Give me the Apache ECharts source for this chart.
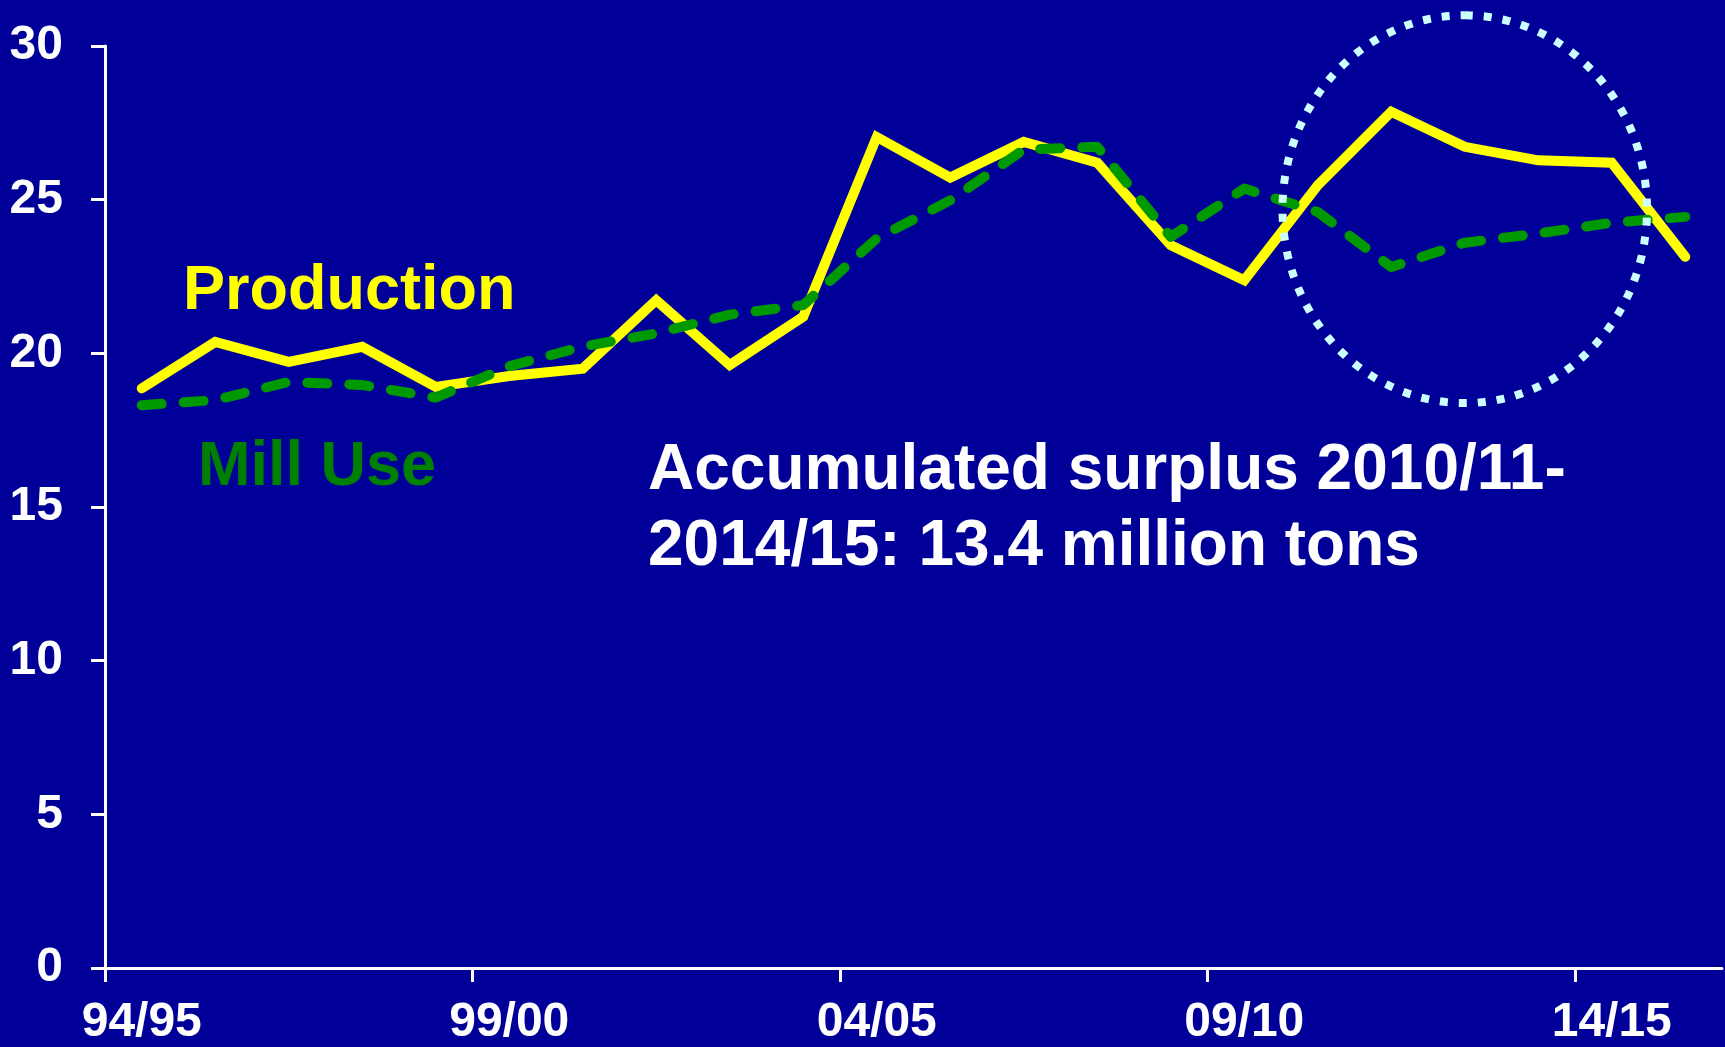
<!DOCTYPE html>
<html>
<head>
<meta charset="utf-8">
<script src="https://cdn.jsdelivr.net/npm/echarts@6/dist/echarts.min.js"></script>
<style>
  html, body { margin: 0; padding: 0; background: #000099; }
  #chart { width: 1725px; height: 1047px; }
</style>
</head>
<body>
<div id="chart"></div>
<script>
// Marketing years (category axis)
var seasons = ['94/95','95/96','96/97','97/98','98/99','99/00','00/01','01/02','02/03','03/04',
               '04/05','05/06','06/07','07/08','08/09','09/10','10/11','11/12','12/13','13/14',
               '14/15','15/16'];
// World cotton production (million tons)
var production = [18.86, 20.37, 19.72, 20.21, 18.91, 19.26, 19.5, 21.73, 19.62, 21.19,
                  27.04, 25.72, 26.88, 26.2, 23.52, 22.38, 25.47, 27.86, 26.72, 26.28,
                  26.2, 23.14];
// World mill use (million tons)
var millUse = [18.31, 18.48, 19.07, 18.97, 18.56, 19.58, 20.22, 20.65, 21.26, 21.57,
               23.74, 24.98, 26.63, 26.72, 23.79, 25.36, 24.6, 22.81, 23.6, 23.9,
               24.25, 24.44];
var yTicks = [0, 5, 10, 15, 20, 25, 30];
// Seasons that carry a label / tick on the x axis
var xTickSeasons = ['94/95', '99/00', '04/05', '09/10', '14/15'];
// Annotation texts
var productionLabel = 'Production';
var millUseLabel = 'Mill Use';
var surplusNote = 'Accumulated surplus 2010/11-\n2014/15: 13.4 million tons';
// Highlighted period (ellipse centre category and value)
var highlightCenter = ['12/13', 24.69];

var FONT = '"Liberation Sans", Arial, sans-serif';
var chart = echarts.init(document.getElementById('chart'), null, { renderer: 'canvas' });

var tickIdx = xTickSeasons.map(function (s) { return seasons.indexOf(s); });
var labelSet = {};
tickIdx.forEach(function (i) { labelSet[i] = true; });

function texts() {
  return [
    { type: 'text', left: 183, top: 260, z: 10,
      style: { text: productionLabel, fill: '#ffff00', font: 'bold 63px ' + FONT } },
    { type: 'text', left: 198, top: 436, z: 10,
      style: { text: millUseLabel, fill: '#008000', font: 'bold 63px ' + FONT } },
    { type: 'text', left: 648, top: 433, z: 10,
      style: { text: surplusNote, fill: '#ffffff', font: 'bold 64px ' + FONT, lineHeight: 76 } }
  ];
}

var option = {
  backgroundColor: '#000099',
  animation: false,
  grid: { left: 105, right: 3, top: 46, bottom: 79, containLabel: false },
  xAxis: [
    {
      type: 'category',
      data: seasons,
      boundaryGap: true,
      axisLine: { show: true, lineStyle: { color: '#ffffff', width: 3 } },
      axisTick: { show: false },
      axisLabel: {
        interval: function (i) { return !!labelSet[i]; },
        color: '#ffffff', fontFamily: FONT, fontWeight: 'bold', fontSize: 48, margin: 31
      },
      splitLine: { show: false }
    },
    {
      // boundary ticks only (at the left edge of every 5th season)
      type: 'value',
      gridIndex: 0,
      position: 'bottom',
      min: 0,
      max: seasons.length,
      axisLine: { show: false },
      axisLabel: { show: false },
      axisTick: { show: true, length: 14, customValues: tickIdx, lineStyle: { color: '#ffffff', width: 3 } },
      splitLine: { show: false }
    }
  ],
  yAxis: {
    type: 'value',
    min: yTicks[0],
    max: yTicks[yTicks.length - 1],
    interval: yTicks[1] - yTicks[0],
    axisLine: { show: true, lineStyle: { color: '#ffffff', width: 3 } },
    axisTick: { show: true, length: 14, lineStyle: { color: '#ffffff', width: 3 } },
    axisLabel: { color: '#ffffff', fontFamily: FONT, fontWeight: 'bold', fontSize: 48, margin: 42 },
    splitLine: { show: false }
  },
  series: [
    {
      name: 'Production', type: 'line', data: production, xAxisIndex: 0,
      symbol: 'none', z: 2,
      lineStyle: { color: '#ffff00', width: 10, cap: 'round', join: 'miter' }
    },
    {
      name: 'Mill Use', type: 'line', data: millUse, xAxisIndex: 0,
      symbol: 'none', z: 3,
      lineStyle: { color: '#009900', width: 10, type: [20, 22], cap: 'round', join: 'round' }
    }
  ],
  graphic: texts()
};
chart.setOption(option);

// Dotted ellipse around the recent seasons, positioned through the axes' scales
var c = chart.convertToPixel({ xAxisIndex: 0, yAxisIndex: 0 }, highlightCenter);
var cx1 = chart.convertToPixel({ xAxisIndex: 0 }, seasons[16]);
var cx2 = chart.convertToPixel({ xAxisIndex: 0 }, seasons[20]);
var rx = (cx2 - cx1) * 0.62;
var ry = chart.convertToPixel({ yAxisIndex: 0 }, highlightCenter[1] - 6.31) - c[1];
var pts = [];
var N = 180;
for (var k = 0; k <= N; k++) {
  var a = -Math.PI / 2 + 2 * Math.PI * k / N;
  pts.push([c[0] + rx * Math.cos(a), c[1] + ry * Math.sin(a)]);
}
chart.setOption({
  graphic: texts().concat([
    { type: 'polyline', z: 20, shape: { points: pts },
      style: { stroke: '#ccffff', lineWidth: 8, lineDash: [8, 11], lineCap: 'butt', fill: null } }
  ])
}, { replaceMerge: ['graphic'] });
</script>
</body>
</html>
